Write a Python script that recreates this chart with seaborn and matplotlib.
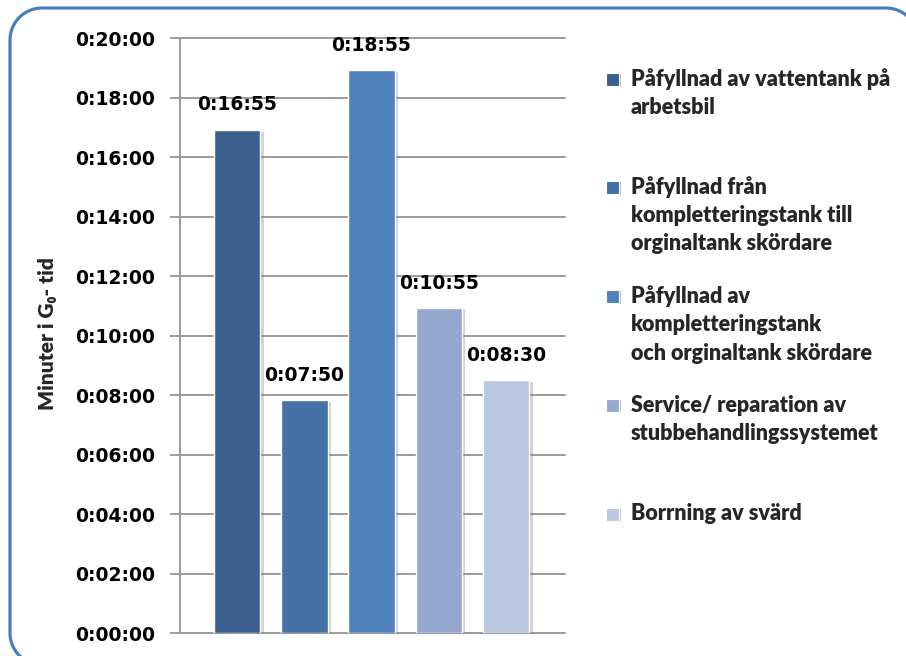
import matplotlib
matplotlib.use("Agg")
import matplotlib.pyplot as plt
import seaborn as sns
import pandas as pd
import numpy as np
from matplotlib.patches import Rectangle, PathPatch
from matplotlib.path import Path
from matplotlib.transforms import IdentityTransform
from matplotlib import patheffects as pe

# Activity categories and their mean duration (seconds of G0 time)
categories = [
    "Påfyllnad av vattentank på\narbetsbil",
    "Påfyllnad från\nkompletteringstank till\norginaltank skördare",
    "Påfyllnad av\nkompletteringstank\noch orginaltank skördare",
    "Service/ reparation av\nstubbehandlingssystemet",
    "Borrning av svärd",
]
duration_sec = [1015, 470, 1135, 655, 510]
colors = ["#3B5F8E", "#4471A6", "#4F81BD", "#94A8D0", "#B9C7E1"]
ytick_minutes = list(range(0, 21, 2))
ylabel = "Minuter i G\u2080- tid"

def fmt_hms(sec):
    return f"{sec // 3600}:{(sec % 3600) // 60:02d}:{sec % 60:02d}"

sns.set_theme(style="white")
plt.rcParams["font.family"] = ["DejaVu Sans"]
label_font = ["Lato", "DejaVu Sans"]

W, H = 906, 656
fig = plt.figure(figsize=(W / 100, H / 100), dpi=100)
ax = fig.add_axes([0.1987, 0.035, 0.425, 0.907])

df = pd.DataFrame({"kategori": categories,
                   "minuter": [s / 60 for s in duration_sec]})
sns.barplot(data=df, x="kategori", y="minuter", hue="kategori",
            palette=colors, width=0.69, saturation=1, legend=False,
            edgecolor="white", linewidth=1.0, ax=ax, zorder=3)

shadow = [pe.SimplePatchShadow(offset=(2.5, -1.5), shadow_rgbFace="#808080", alpha=0.35),
          pe.Normal()]
for p in ax.patches:
    p.set_path_effects(shadow)

ax.set_xlim(-0.85, 4.88)
ax.set_ylim(0, 20)
ax.set_yticks(ytick_minutes)
ax.set_yticklabels([fmt_hms(m * 60) for m in ytick_minutes],
                   fontsize=13.5, fontweight="bold", color="black")
ax.set_xticks([])
ax.set_xlabel("")
ax.set_ylabel("")

ax.yaxis.grid(True, color="#9a9a9a", linewidth=1.4, zorder=0)
ax.set_axisbelow(True)
for s in ["top", "right", "bottom"]:
    ax.spines[s].set_visible(False)
ax.spines["left"].set_color("#9a9a9a")
ax.spines["left"].set_linewidth(1.4)
ax.tick_params(axis="y", left=True, length=7, width=1.4, color="#9a9a9a", pad=11)
for gl in ax.get_ygridlines():
    gl.set_clip_on(False)

# value labels above each bar
for i, s in enumerate(duration_sec):
    ax.annotate(fmt_hms(s), (i, s / 60), xytext=(0, 18), textcoords="offset points",
                ha="center", va="center", fontsize=13.5, fontweight="bold", color="black")

fig.text(0.052, 1 - 334 / H, ylabel, rotation=90, ha="center", va="center",
         fontsize=15, fontweight="heavy", family=label_font)

# legend drawn entry by entry, first line aligned with the swatch
entry_y = [79, 187, 296, 405, 514]
line_step = 28.5
for cat, col, y0 in zip(categories, colors, entry_y):
    fig.add_artist(Rectangle((606 / W, 1 - (y0 + 6.5) / H), 13 / W, 13 / H,
                             transform=fig.transFigure, facecolor=col,
                             edgecolor="white", linewidth=0.8,
                             path_effects=[pe.SimplePatchShadow(offset=(1.5, -1), alpha=0.3), pe.Normal()]))
    for k, line in enumerate(cat.split("\n")):
        fig.text(631 / W, 1 - (y0 + k * line_step) / H, line, ha="left", va="center",
                 fontsize=15.5, fontweight="heavy", family=label_font)

# rounded frame around the chart in pixel space (bottom and right edges run off the canvas)
def rounded_rect(x0, y0, x1, y1, r, n=24):
    pts = []
    corners = [(x1 - r, y1 - r, 0), (x0 + r, y1 - r, 90),
               (x0 + r, y0 + r, 180), (x1 - r, y0 + r, 270)]
    for cx, cy, a0 in corners:
        t = np.radians(np.linspace(a0, a0 + 90, n))
        pts.extend(zip(cx + r * np.cos(t), cy + r * np.sin(t)))
    pts.append(pts[0])
    return Path(pts, closed=True)

frame = PathPatch(rounded_rect(10, -9, 918, 648, 32), transform=IdentityTransform(),
                  facecolor="none", edgecolor="#4A7EBB", linewidth=2.3, clip_on=False)
fig.add_artist(frame)

fig.savefig("out.png", dpi=100)
